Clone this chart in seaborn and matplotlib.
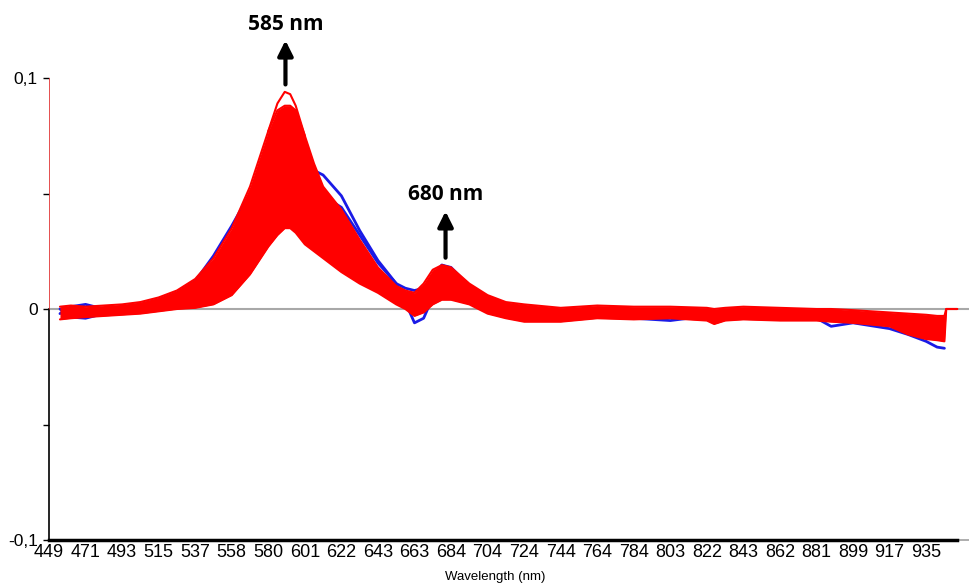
import numpy as np
import matplotlib
matplotlib.use("Agg")
import matplotlib.pyplot as plt
import seaborn as sns

# Wavelength tick labels (evenly spaced channels on the detector)
tick_labels = ['449', '471', '493', '515', '537', '558', '580', '601', '622', '643', '663',
               '684', '704', '724', '744', '764', '784', '803', '822', '843', '862', '881',
               '899', '917', '935']

# Channel position (in tick units) of each sampled point
channel = [0.3, 0.6, 1, 1.5, 2, 2.5, 3, 3.5, 4, 4.5, 5, 5.5, 6, 6.25, 6.45, 6.6, 6.75, 7,
           7.25, 7.5, 8, 8.5, 9, 9.5, 9.75, 10, 10.25, 10.5, 10.75, 11, 11.5, 12, 12.5, 13,
           14, 15, 16, 17, 18, 18.2, 18.5, 19, 20, 21, 21.4, 22, 23, 23.5, 24, 24.3, 24.5,
           24.55, 24.85]

# Upper and lower edge of the bundle of red spectra
red_upper = [0.001, 0.0015, 0.001, 0.0015, 0.002, 0.003, 0.005, 0.008, 0.013, 0.022, 0.035,
             0.053, 0.077, 0.086, 0.088, 0.088, 0.086, 0.075, 0.063, 0.053, 0.043, 0.030,
             0.018, 0.010, 0.008, 0.007, 0.011, 0.017, 0.019, 0.018, 0.011, 0.006, 0.003,
             0.002, 0.0005, 0.0015, 0.001, 0.001, 0.0005, 0.0, 0.0005, 0.001, 0.0005, 0.0,
             0.0, -0.0005, -0.0015, -0.002, -0.0025, -0.003, -0.003, 0.0, 0.0]
red_lower = [-0.0045, -0.004, -0.0035, -0.003, -0.0025, -0.002, -0.001, 0.0, 0.0005, 0.002,
             0.006, 0.015, 0.027, 0.032, 0.035, 0.035, 0.033, 0.028, 0.025, 0.022, 0.016,
             0.011, 0.007, 0.002, 0.0, -0.003, -0.0015, 0.002, 0.004, 0.004, 0.002, -0.002,
             -0.004, -0.0055, -0.0055, -0.004, -0.0045, -0.004, -0.005, -0.0065, -0.005,
             -0.0045, -0.005, -0.005, -0.0055, -0.006, -0.0075, -0.011, -0.013, -0.0135,
             -0.014, 0.0, 0.0]

# Highest red spectrum around the 585 nm maximum
top_channel = [6.0, 6.25, 6.45, 6.6, 6.75, 7.0]
red_top = [0.077, 0.089, 0.094, 0.093, 0.088, 0.075]

# Two blue spectra
nan = np.nan
blue_a = [-0.002, 0.001, 0.002, 0.0, 0.001, 0.002, 0.004, 0.007, 0.012, 0.023, 0.036, 0.050,
          0.062, 0.066, 0.067, 0.066, 0.064, 0.061, 0.060, 0.058, 0.049, 0.034, 0.021, 0.011,
          0.003, -0.006, -0.004, 0.005, 0.019, 0.017, 0.008, 0.003, -0.001, -0.003, -0.004,
          -0.002, -0.004, -0.005, -0.003, -0.004, -0.003, -0.004, -0.003, -0.004, -0.0075,
          -0.006, -0.0085, -0.011, -0.014, -0.0165, -0.017, nan, nan]
blue_b = [0.0, -0.0035, -0.004, -0.002, -0.001, -0.0005, 0.001, 0.004, 0.009, 0.017, 0.028,
          0.040, 0.052, 0.056, 0.058, 0.058, 0.057, 0.054, 0.051, 0.049, 0.044, 0.032, 0.020,
          0.011, 0.009, 0.008, 0.009, 0.014, 0.019, 0.018, 0.010, 0.004, 0.001, -0.002, -0.003,
          -0.001, -0.002, -0.002, -0.002, -0.003, -0.002, -0.001, -0.002, -0.002, -0.003,
          -0.003, -0.004, -0.006, -0.008, -0.009, -0.010, nan, nan]

sns.set_style("white")
plt.rcParams['font.family'] = ['Liberation Sans', 'DejaVu Sans']
plt.rcParams['text.color'] = 'black'
plt.rcParams['xtick.color'] = 'black'
plt.rcParams['ytick.color'] = 'black'
plt.rcParams['axes.labelcolor'] = 'black'

fig = plt.figure(figsize=(9.7, 5.87), dpi=100)
ax = fig.add_axes([49 / 970, 47 / 587, 921 / 970, 462 / 587])

# zero line
ax.axhline(0, color='#a8a8a8', lw=1.5, zorder=0.5)

blue = '#1a1ae6'
sns.lineplot(x=channel, y=blue_a, ax=ax, color=blue, lw=2, sort=False, estimator=None, zorder=1)
sns.lineplot(x=channel, y=blue_b, ax=ax, color=blue, lw=2, sort=False, estimator=None, zorder=1)

ax.fill_between(channel, red_lower, red_upper, color='#ff0000', lw=0, zorder=2)
sns.lineplot(x=channel, y=red_upper, ax=ax, color='#ff0000', lw=1.5, sort=False, estimator=None, zorder=2)
sns.lineplot(x=channel, y=red_lower, ax=ax, color='#ff0000', lw=1.5, sort=False, estimator=None, zorder=2)
sns.lineplot(x=top_channel, y=red_top, ax=ax, color='#ff0000', lw=1.5, sort=False, estimator=None, zorder=2)

ax.set_xlim(0, 25.2)
ax.set_ylim(-0.1, 0.1)

ax.set_xticks(range(len(tick_labels)))
ax.set_xticklabels(tick_labels, fontsize=13)
ax.tick_params(axis='x', length=0, pad=3)

ax.set_yticks([-0.1, 0, 0.1])
ax.set_yticklabels(['-0,1', '0', '0,1'], fontsize=12.5)
ax.set_yticks([-0.05, 0.05], minor=True)
ax.tick_params(axis='y', which='both', direction='out', length=4, width=1, color='black',
               left=True, pad=4)

for s in ['top', 'right']:
    ax.spines[s].set_visible(False)
ax.spines['left'].set_bounds(-0.1, 0)
ax.spines['left'].set_color('black')
ax.spines['left'].set_linewidth(1.2)
ax.axvline(0, ymin=0.5, ymax=1, color='#e03030', lw=1.2, zorder=3)
ax.spines['bottom'].set_bounds(0, 24.85)
ax.spines['bottom'].set_color('black')
ax.spines['bottom'].set_linewidth(2.5)
ax.plot([24.85, 25.2], [-0.1, -0.1], color='#a0a0a0', lw=1.2, clip_on=False)

ax.set_xlabel('Wavelength (nm)', fontsize=9.5)
ax.xaxis.set_label_coords((495 - 49) / 921, -0.068)

# peak markers
arrow = dict(arrowstyle='-|>,head_length=0.9,head_width=0.45', color='black', lw=3)
ax.annotate('', xy=(6.47, 0.1175), xytext=(6.47, 0.096), arrowprops=arrow, annotation_clip=False)
ax.text(6.47, 0.123, '585 nm', ha='center', va='center', fontsize=15, fontweight='bold',
        family=['Open Sans', 'DejaVu Sans'], clip_on=False)
ax.annotate('', xy=(10.85, 0.0435), xytext=(10.85, 0.021), arrowprops=arrow, annotation_clip=False)
ax.text(10.85, 0.0495, '680 nm', ha='center', va='center', fontsize=15, fontweight='bold',
        family=['Open Sans', 'DejaVu Sans'])

fig.savefig('out.png', dpi=100)
